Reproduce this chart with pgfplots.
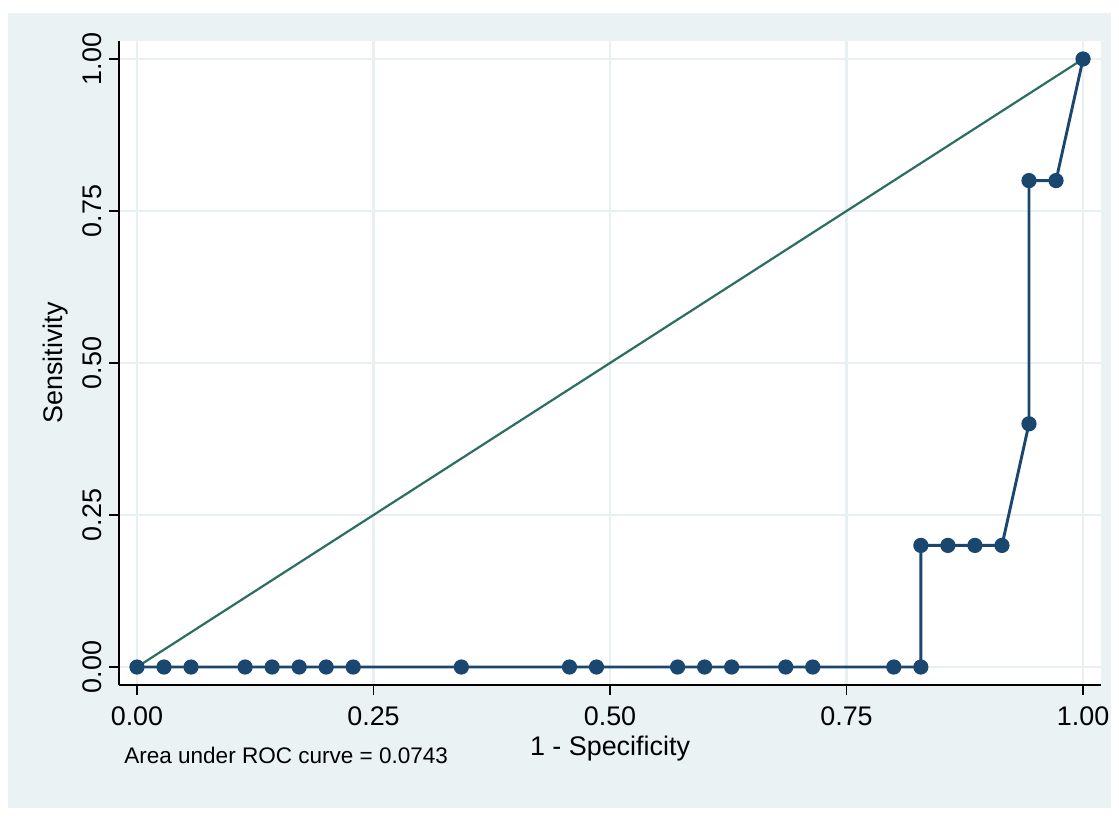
\documentclass[border=0pt]{standalone}
\usepackage{pgfplots}
\pgfplotsset{compat=1.18}
\usepackage{fontspec}
\setmainfont{Liberation Sans}
\definecolor{bgc}{RGB}{234,242,243}
\definecolor{gridc}{RGB}{232,240,242}
\definecolor{navyc}{RGB}{26,71,111}
\definecolor{tealc}{RGB}{45,110,98}
\begin{document}
\begin{tikzpicture}[x=1bp,y=1bp]
\path[use as bounding box] (-59.5,-68) rectangle (500,342.5);
\fill[white] (-59.5,-68) rectangle (500,342.5);
\fill[bgc] (-55.5,-61.5) rectangle (496,336);
\begin{axis}[
  at={(0,0)}, anchor=south west,
  scale only axis, width=491bp, height=322bp,
  xmin=-0.019, xmax=1.019, ymin=-0.0296, ymax=1.0296,
  axis background/.style={fill=white},
  axis x line*=bottom, axis y line*=left,
  axis line style={black, line width=0.6pt, -},
  tick align=outside, major tick length=5bp,
  tick style={black, line width=0.6pt},
  xtick={0,0.25,0.5,0.75,1}, ytick={0,0.25,0.5,0.75,1},
  xticklabels={0.00,0.25,0.50,0.75,1.00},
  yticklabels={0.00,0.25,0.50,0.75,1.00},
  ticklabel style={font=\fontsize{13.5}{16}\selectfont},
  xticklabel style={yshift=-2.5bp},
  yticklabel style={rotate=90, anchor=south},
  grid=major, major grid style={gridc, line width=1.1pt},
  clip=false,
]
\addplot[navyc, line width=1.45pt, mark=*, mark size=3.5bp, mark options={fill=navyc, draw=navyc, solid, line width=0.6pt}] coordinates {
(0,0) (0.028571,0) (0.057143,0) (0.114286,0) (0.142857,0) (0.171429,0) (0.2,0) (0.228571,0)
(0.342857,0) (0.457143,0) (0.485714,0) (0.571429,0) (0.6,0) (0.628571,0) (0.685714,0) (0.714286,0)
(0.8,0) (0.828571,0) (0.828571,0.2) (0.857143,0.2) (0.885714,0.2) (0.914286,0.2)
(0.942857,0.4) (0.942857,0.8) (0.971429,0.8) (1,1)
};
\addplot[tealc, line width=1.1pt] coordinates {(0,0) (1,1)};
\end{axis}
\node[font=\fontsize{13.5}{16}\selectfont] at (245.5,-32) {1 - Specificity};
\node[font=\fontsize{13.5}{16}\selectfont, rotate=90] at (-31.5,161) {Sensitivity};
\node[font=\fontsize{11.3}{13}\selectfont, anchor=west, inner sep=0pt] at (2.5,-35) {Area under ROC curve = 0.0743};
\end{tikzpicture}
\end{document}
